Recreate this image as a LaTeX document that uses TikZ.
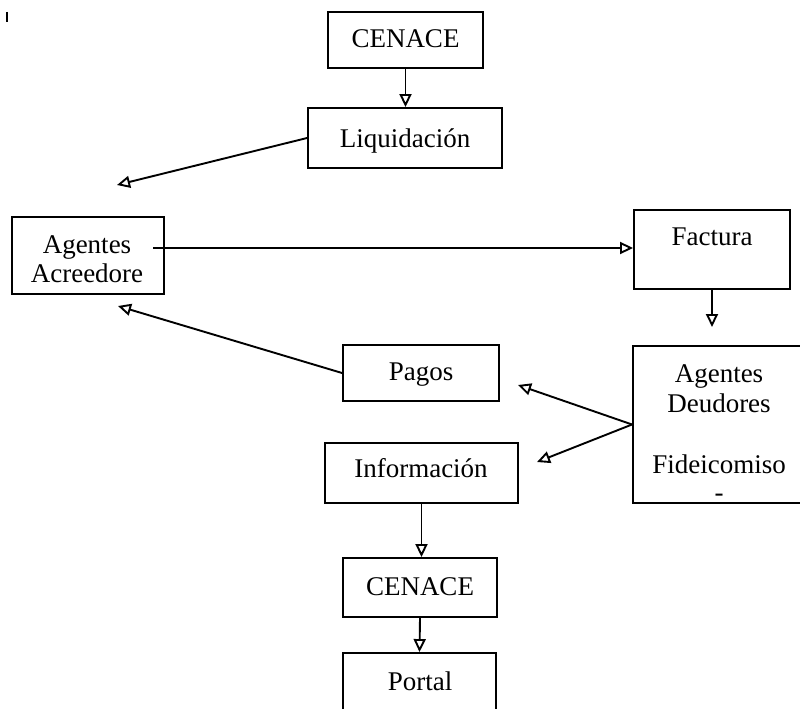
\documentclass[tikz,border=0pt]{standalone}
\usepackage{fontspec}
\setmainfont{Liberation Serif}
\usetikzlibrary{arrows.meta}
\begin{document}
\begin{tikzpicture}[x=1pt,y=-1pt,
  box/.style={draw, line width=1.9pt, inner sep=0pt},
  lbl/.style={anchor=base, inner sep=0pt, font=\fontsize{27}{30}\selectfont},
  conn/.style={line width=1.9pt, -{Triangle[open,length=13pt,width=12pt,line width=1.9pt]}}]
\useasboundingbox (0,0) rectangle (800,709);
\clip (0,0) rectangle (800,709);
% boxes
\node[box, minimum width=155pt, minimum height=56pt] (cen1) at (405.5,40) {};
\node[box, minimum width=194pt, minimum height=60pt] (liq) at (405,138) {};
\node[box, minimum width=152pt, minimum height=77pt] (acr) at (88,255.5) {};
\node[box, minimum width=156pt, minimum height=79pt] (fac) at (712,249.5) {};
\node[box, minimum width=178pt, minimum height=157pt] (deu) at (722,424.5) {};
\node[box, minimum width=156pt, minimum height=56pt] (pag) at (421,373) {};
\node[box, minimum width=193pt, minimum height=60pt] (inf) at (421.5,473) {};
\node[box, minimum width=154pt, minimum height=59pt] (cen2) at (420,587.5) {};
\node[box, minimum width=153pt, minimum height=77pt] (por) at (419.5,691.5) {};
% labels
\node[lbl] (tcen1) at (405.5,48) {CENACE};
\node[lbl] (tliq) at (405,147) {Liquidación};
\node[lbl] (tacr1) at (87,253) {Agentes};
\node[lbl] (tacr2) at (87,282) {Acreedore};
\node[lbl] (tfac) at (712,245) {Factura};
\node[lbl] (tdeu1) at (719,382) {Agentes};
\node[lbl] (tdeu2) at (719,412) {Deudores};
\node[lbl] (tdeu3) at (719,473) {Fideicomiso};
\node[lbl] (tdeu4) at (719,501) {-};
\node[lbl] (tpag) at (421,380) {Pagos};
\node[lbl] (tinf) at (421,477) {Información};
\node[lbl] (tcen2) at (420,595) {CENACE};
\node[lbl] (tpor) at (420,690) {Portal};
% free ends
\coordinate (liqend) at (117,185);
\coordinate (acrstart) at (153,248);
\coordinate (facend) at (712,327);
\coordinate (pagend) at (518,385);
\coordinate (infend) at (537,462);
\coordinate (acrend) at (118,306);
% connectors
\draw[conn] (cen1.south) -- (cen1.south |- liq.north);
\draw[conn] (liq.west) -- (liqend);
\draw[conn] (acrstart) -- (acrstart -| fac.west);
\draw[conn] (fac.south) -- (facend);
\draw[conn] (deu.west) -- (pagend);
\draw[conn] (deu.west) -- (infend);
\draw[conn] (pag.west) -- (acrend);
\draw[conn] (inf.south) -- (inf.south |- cen2.north);
\draw[conn] (cen2.south) -- (por.north);
% scan speck
\draw[line width=1.2pt] (7,12) -- (7,22);
\end{tikzpicture}
\end{document}
